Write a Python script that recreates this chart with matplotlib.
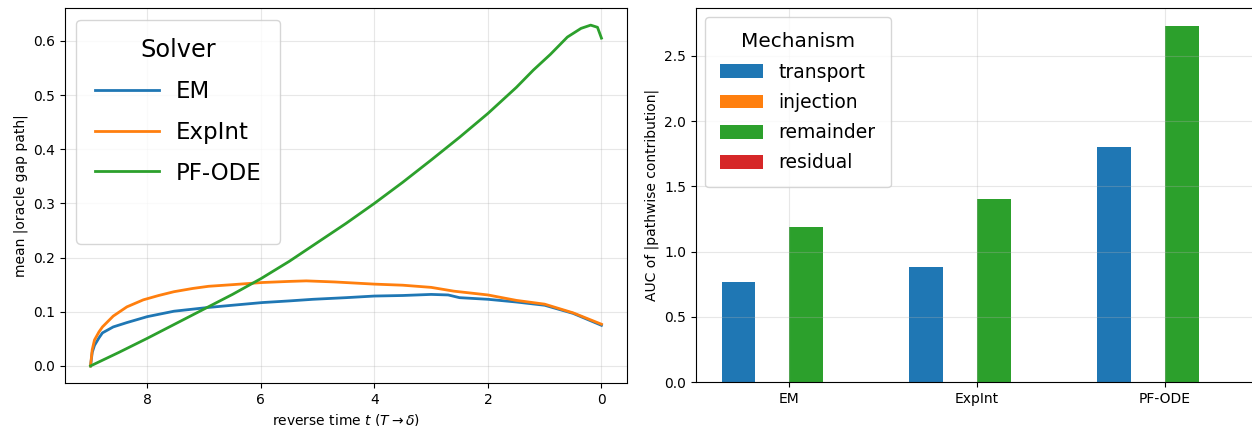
import matplotlib
matplotlib.use("Agg")
import matplotlib.pyplot as plt
import numpy as np

# left panel: mean |oracle gap path| vs reverse time
t_em = [9.0, 8.97, 8.93, 8.85, 8.79, 8.6, 8.36, 8.0, 7.53, 6.92, 6.5, 5.97, 5.5,
        5.08, 4.5, 4.0, 3.5, 3.0, 2.7, 2.5, 2.0, 1.5, 1.0, 0.5, 0.0]
em = [0.0, 0.025, 0.038, 0.052, 0.061, 0.072, 0.080, 0.091, 0.101, 0.108, 0.112,
      0.117, 0.120, 0.123, 0.126, 0.129, 0.130, 0.132, 0.131, 0.126, 0.123, 0.118,
      0.112, 0.097, 0.075]

t_expint = [9.0, 8.97, 8.93, 8.85, 8.79, 8.6, 8.36, 8.07, 7.8, 7.53, 7.2, 6.92, 6.5,
            5.97, 5.5, 5.2, 4.7, 4.0, 3.5, 3.0, 2.6, 2.0, 1.5, 1.0, 0.5, 0.0]
expint = [0.0, 0.03, 0.048, 0.063, 0.072, 0.092, 0.109, 0.122, 0.130, 0.137, 0.143,
          0.147, 0.150, 0.154, 0.156, 0.157, 0.155, 0.151, 0.149, 0.145, 0.138,
          0.131, 0.121, 0.114, 0.098, 0.077]

t_pfode = [9.0, 8.5, 8.0, 7.5, 7.0, 6.5, 6.0, 5.5, 5.0, 4.5, 4.0, 3.5, 3.0, 2.5,
           2.0, 1.5, 1.2, 0.9, 0.6, 0.36, 0.19, 0.07, 0.0]
pfode = [0.0, 0.025, 0.051, 0.078, 0.105, 0.132, 0.161, 0.193, 0.228, 0.263, 0.300,
         0.339, 0.380, 0.422, 0.466, 0.514, 0.546, 0.575, 0.607, 0.623, 0.629, 0.625,
         0.605]

# right panel: AUC per mechanism
solvers = ["EM", "ExpInt", "PF-ODE"]
mechanisms = ["transport", "injection", "remainder", "residual"]
auc = {
    "transport": [0.77, 0.88, 1.80],
    "injection": [0.004, 0.004, 0.004],
    "remainder": [1.19, 1.40, 2.73],
    "residual": [0.004, 0.004, 0.004],
}

fig = plt.figure(figsize=(12.52, 4.26), dpi=100)
ax1 = fig.add_axes([0.0519, 0.101, 0.4489, 0.880])
ax2 = fig.add_axes([0.5559, 0.103, 0.4489, 0.878])

ax1.plot(t_em, em, color="#1f77b4", lw=2, label="EM")
ax1.plot(t_expint, expint, color="#ff7f0e", lw=2, label="ExpInt")
ax1.plot(t_pfode, pfode, color="#2ca02c", lw=2, label="PF-ODE")
ax1.plot([], [], color="none", label=" ")  # blank row, legend box is taller in the original
ax1.invert_xaxis()
ax1.set_xlabel(r"reverse time $t$ ($T \to \delta$)")
ax1.set_ylabel("mean |oracle gap path|")
ax1.grid(True, alpha=0.3)
ax1.legend(title="Solver", loc="upper left", fontsize=16.5,
           title_fontsize="xx-large", handlelength=2.8, handletextpad=0.75,
           borderpad=0.8, labelspacing=0.78)

x = np.arange(len(solvers))
w = 0.18
for i, m in enumerate(mechanisms):
    ax2.bar(x + (i - 1.5) * w, auc[m], width=w, label=m)
ax2.set_xticks(x)
ax2.set_xticklabels(solvers)
ax2.set_ylabel("AUC of |pathwise contribution|")
ax2.grid(True, alpha=0.3)
ax2.legend(title="Mechanism", loc="upper left", fontsize=13.5,
           title_fontsize="x-large", handlelength=2.3, handleheight=0.75,
           borderpad=0.8, labelspacing=0.6)

fig.savefig("out.png", dpi=100)
